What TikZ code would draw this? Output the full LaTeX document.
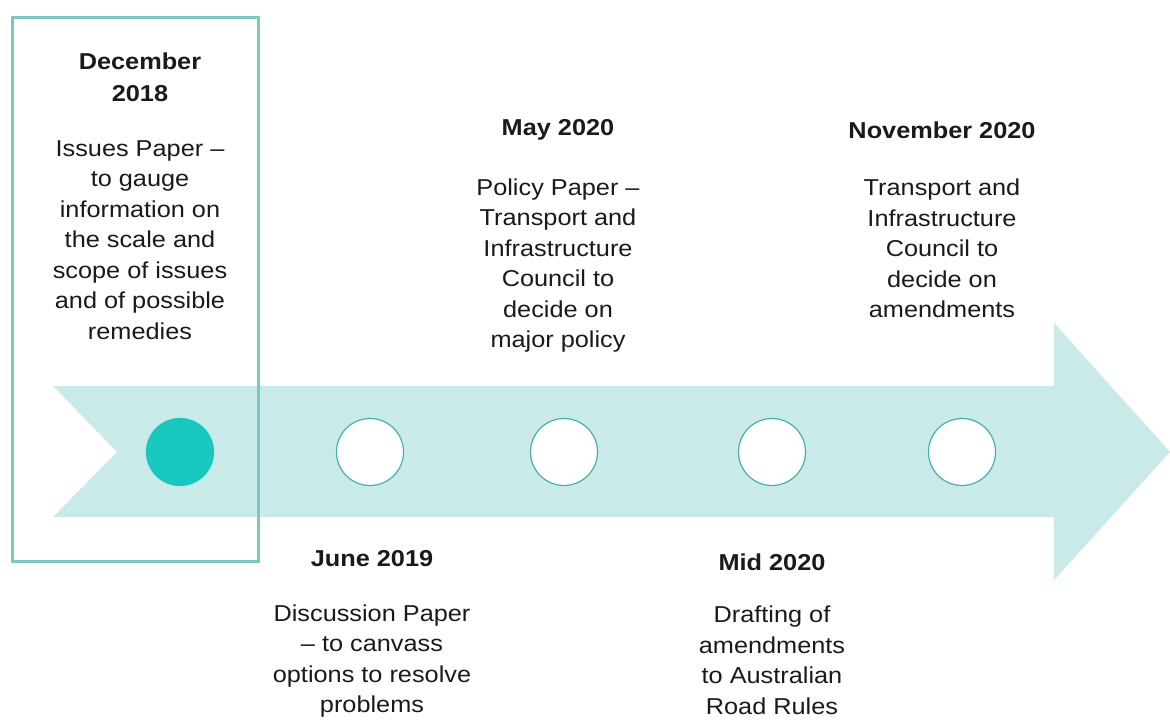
\documentclass[tikz,border=0pt]{standalone}
\usepackage{fontspec}
\setmainfont[FakeStretch=1.1]{Liberation Sans}
\usetikzlibrary{positioning}
\definecolor{bandteal}{RGB}{202,234,234}
\definecolor{dotteal}{RGB}{24,200,190}
\definecolor{ringteal}{RGB}{70,176,170}
\definecolor{boxteal}{RGB}{125,200,190}
\definecolor{inkgrey}{RGB}{26,26,26}

\begin{document}
\begin{tikzpicture}[x=1pt, y=-1pt, semithick]
	\tikzstyle{milestone}=[circle, minimum size=67pt, inner sep=0pt, draw=ringteal, line width=1.2pt, fill=white]
	\tikzstyle{label}=[align=center, anchor=north, inner sep=0pt, text=inkgrey, font=\fontsize{23}{30.5}\selectfont]

	\useasboundingbox (0,0) rectangle (1170,720);

	\fill[bandteal] (53,386) -- (1054,386) -- (1054,323) -- (1170,452)
		-- (1054,580) -- (1054,517) -- (53,517) -- (117,452) -- cycle;

	\node[milestone, fill=dotteal, draw=dotteal] (dec) at (180,452) {};
	\node[milestone] (jun) at (370,452) {};
	\node[milestone] (may) at (564,452) {};
	\node[milestone] (mid) at (772,452) {};
	\node[milestone] (nov) at (962,452) {};

	\draw[boxteal, line width=3pt] (12,17) rectangle (258,561);

	\node[label] (dect) at (140,53) {\textbf{December}\\[1pt]\textbf{2018}\\[24.5pt]
		Issues Paper --\\to gauge\\information on\\the scale and\\scope of issues\\and of possible\\remedies};
	\node[label] (mayt) at (558,119) {\textbf{May 2020}\\[29.5pt]
		Policy Paper --\\Transport and\\Infrastructure\\Council to\\decide on\\major policy};
	\node[label] (novt) at (942,122) {\textbf{November 2020}\\[26.5pt]
		Transport and\\Infrastructure\\Council to\\decide on\\amendments};
	\node[label] (junt) at (372,550) {\textbf{June 2019}\\[24.5pt]
		Discussion Paper\\-- to canvass\\options to resolve\\problems};
	\node[label] (midt) at (772,554) {\textbf{Mid 2020}\\[21.5pt]
		Drafting of\\amendments\\to Australian\\Road Rules};
\end{tikzpicture}
\end{document}
